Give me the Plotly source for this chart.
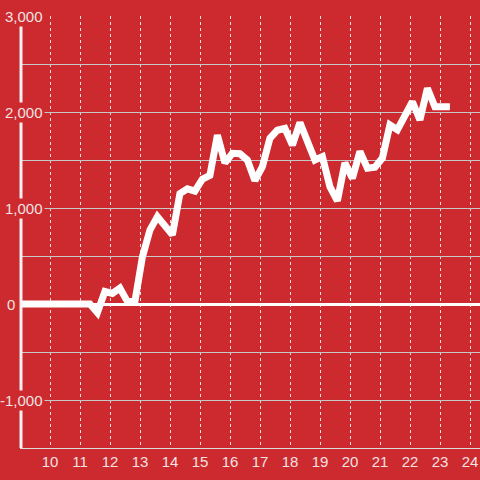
import plotly.graph_objects as go

colors_scheme = {
    'background': '#CC2A2F',
    'line': '#FFFFFF',
    'grid': '#C8C8C8',
    'text': '#F3E2E2'
}

# =============================
hours = [9.0, 11.33,
         11.58, 11.83, 12.08, 12.33, 12.58, 12.83, 13.08, 13.33, 13.58, 13.83,
         14.08, 14.33, 14.58, 14.83, 15.08, 15.33, 15.58, 15.83, 16.08, 16.33,
         16.58, 16.83, 17.08, 17.33, 17.58, 17.83, 18.08, 18.33, 18.58, 18.83,
         19.08, 19.33, 19.58, 19.83, 20.08, 20.33, 20.58, 20.83, 21.08, 21.33,
         21.58, 21.83, 22.08, 22.33, 22.58, 22.83, 23.08, 23.33]
values = [0, 0,
          -90, 130, 110, 165, 25, 25, 490, 770, 910, 815,
          720, 1150, 1200, 1175, 1300, 1340, 1760, 1470, 1570, 1565,
          1500, 1285, 1430, 1726, 1810, 1830, 1656, 1890, 1710, 1500,
          1535, 1222, 1075, 1470, 1310, 1590, 1414, 1425, 1520, 1865,
          1815, 1951, 2107, 1917, 2247, 2055, 2055, 2055]

x_ticks = list(range(10, 25))
y_labels = [3000, 2000, 1000, 0, -1000]

fig = go.Figure(data=[go.Scatter(
    x=hours,
    y=values,
    mode='lines',
    line=dict(color=colors_scheme['line'], width=7),
    hoverinfo='skip'
)])

fig.update_layout(
    width=480,
    height=480,
    margin=dict(l=20, r=0, t=16, b=32),
    plot_bgcolor=colors_scheme['background'],
    paper_bgcolor=colors_scheme['background'],
    font=dict(family='Liberation Sans, Arial', size=15, color=colors_scheme['text']),
    showlegend=False
)

fig.update_xaxes(
    range=[9, 9 + 460 / 30],
    tickvals=x_ticks,
    ticks='',
    tickfont=dict(size=15),
    showgrid=True,
    gridcolor='rgba(255,255,255,0.85)',
    griddash='dot',
    gridwidth=1,
    showline=True,
    linecolor='#DDDDDD',
    linewidth=1,
    zeroline=False,
    fixedrange=True
)

fig.update_yaxes(
    range=[-1500, 3000],
    dtick=500,
    tick0=0,
    showticklabels=False,
    ticks='',
    showgrid=True,
    gridcolor=colors_scheme['grid'],
    gridwidth=1,
    showline=False,
    zeroline=True,
    zerolinecolor='#FFFFFF',
    zerolinewidth=3,
    fixedrange=True
)

# vertical axis line, drawn as a shape so the label boxes can cover it
fig.add_shape(
    type='line', xref='paper', yref='paper',
    x0=1 / 460, x1=1 / 460, y0=0, y1=1,
    line=dict(color='#F2F2F2', width=3),
    layer='above'
)

# y tick labels sit on a red box over the axis line
for v in y_labels:
    fig.add_annotation(
        xref='paper', yref='y',
        x=(17 - 20) / 460 if v == 0 else (45 - 20) / 460,
        y=v,
        xanchor='right', yanchor='middle',
        text=f'{v:,}',
        showarrow=False,
        bgcolor=colors_scheme['background'],
        borderpad=1,
        font=dict(size=15, color=colors_scheme['text'])
    )

# page body has an 8px margin by default, drop it so the chart fills the window
fig.write_html('out.html', config={'displayModeBar': False},
               post_script="document.body.style.margin='0';")
